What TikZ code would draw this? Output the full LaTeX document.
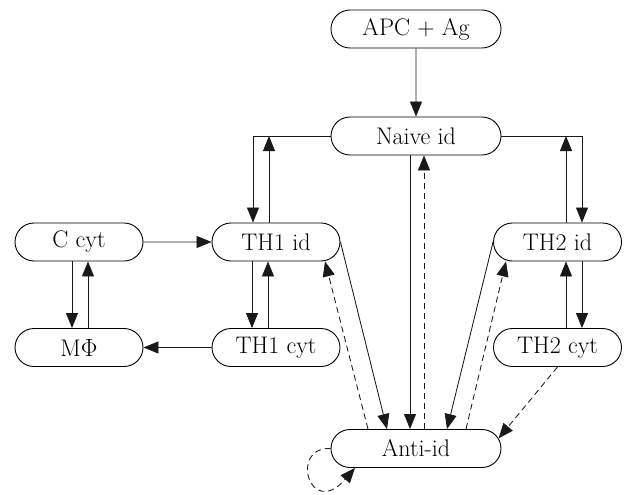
\documentclass[tikz,border=0pt]{standalone}
\usetikzlibrary{arrows.meta,shapes.misc}
\begin{document}
\begin{tikzpicture}[x=1pt,y=-1pt,
  box/.style={draw, rounded rectangle, line width=0.9pt, inner sep=0pt,
    minimum height=38pt, font=\fontsize{24}{28}\selectfont},
  big/.style={box, minimum width=170pt},
  small/.style={box, minimum width=128pt},
  conn/.style={line width=0.85pt, draw=black!90, -{Triangle[length=15pt,width=12pt]}},
  dconn/.style={conn, dash pattern=on 6pt off 4pt}]
\useasboundingbox (0,0) rectangle (624,495);
\node[big] (apc) at (416,29) {APC + Ag};
\node[big] (naive) at (416,136) {Naive id};
\node[small] (ccyt) at (79,242) {C cyt};
\node[small] (th1) at (276,242) {TH1 id};
\node[small] (th2) at (557.5,242) {TH2 id};
\node[small] (mphi) at (79,347.5) {M$\Phi$};
\node[small] (th1cyt) at (276,347.5) {TH1 cyt};
\node[small] (th2cyt) at (557.5,347.5) {TH2 cyt};
\node[big] (anti) at (416,448.5) {Anti-id};

\draw[conn] (apc) -- (naive);
% naive <-> TH1
\draw[conn] (naive.west) -| ([xshift=-23pt]th1.north);
\draw[conn] ([xshift=-7pt]th1.north) -- ([xshift=-7pt]th1.north |- naive.west);
% naive <-> TH2
\draw[conn] (naive.east) -| ([xshift=24.5pt]th2.north);
\draw[conn] ([xshift=8.5pt]th2.north) -- ([xshift=8.5pt]th2.north |- naive.east);
% naive <-> anti
\draw[conn] ([xshift=-6pt]naive.south) -- ([xshift=-6pt]anti.north);
\draw[dconn] ([xshift=8pt]anti.north) -- ([xshift=8pt]naive.south);
% C cyt
\draw[conn] (ccyt) -- (th1);
\draw[conn] ([xshift=-7pt]ccyt.south) -- ([xshift=-7pt]mphi.north);
\draw[conn] ([xshift=9pt]mphi.north) -- ([xshift=9pt]ccyt.south);
% TH1
\draw[conn] ([xshift=-24pt]th1.south) -- ([xshift=-24pt]th1cyt.north);
\draw[conn] ([xshift=-8pt]th1cyt.north) -- ([xshift=-8pt]th1.south);
\draw[conn] (th1cyt) -- (mphi);
% TH2
\draw[conn] ([xshift=8.5pt]th2cyt.north) -- ([xshift=8.5pt]th2.south);
\draw[conn] ([xshift=24.5pt]th2.south) -- ([xshift=24.5pt]th2cyt.north);
% diagonals
\draw[conn] (th1.east) -- ([xshift=-29pt]anti.north);
\draw[dconn] ([xshift=-48pt]anti.north) -- ([xshift=49pt]th1.south);
\draw[conn] (th2.west) -- ([xshift=31pt]anti.north);
\draw[dconn] ([xshift=50pt]anti.north) -- ([xshift=-51.5pt]th2.south);
\draw[dconn] (th2cyt.south) -- (anti.7);
% self loop
\draw[dconn] (anti.west) .. controls +(-42,-2) and +(-45,52) .. ([xshift=-61pt]anti.south);
\end{tikzpicture}
\end{document}
